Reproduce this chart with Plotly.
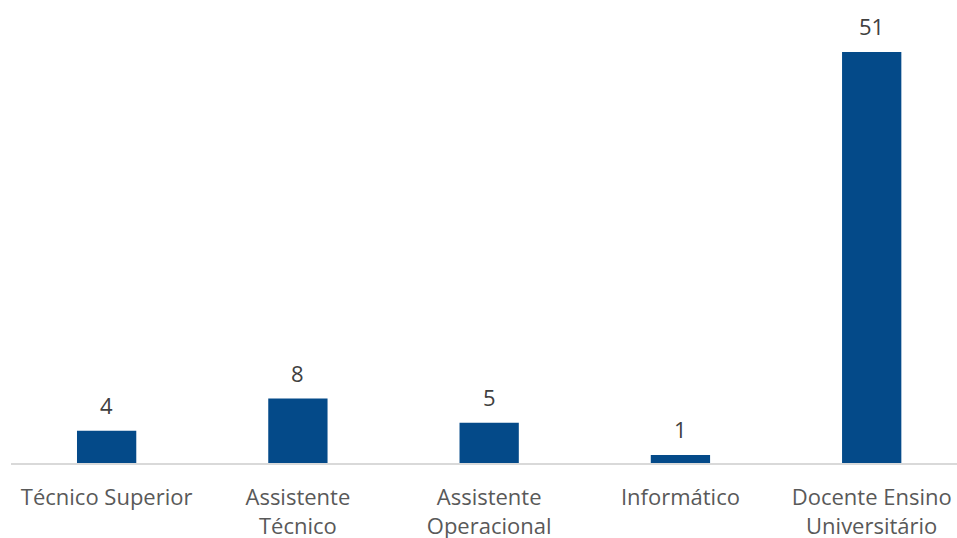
import plotly.graph_objects as go

categories = ["Técnico Superior", "Assistente<br>Técnico", "Assistente<br>Operacional",
              "Informático", "Docente Ensino<br>Universitário"]
values = [4, 8, 5, 1, 51]

xs = list(range(len(categories)))

fig = go.Figure(go.Bar(
    x=xs, y=values,
    marker=dict(color="#044a89", line=dict(width=0)),
    width=0.31,
    cliponaxis=False,
))

for x, v in zip(xs, values):
    fig.add_annotation(x=x, y=v, text=str(v), showarrow=False,
                       yanchor="bottom", yshift=9,
                       font=dict(family="Open Sans", size=22, color="#404040"))

fig.update_layout(
    width=957, height=538,
    margin=dict(l=11, r=0, t=10, b=75),
    paper_bgcolor="white", plot_bgcolor="white",
    showlegend=False,
    xaxis=dict(
        tickmode="array", tickvals=xs, ticktext=categories,
        range=[-0.5, 4.446], automargin=False,
        showline=True, linecolor="#d9d9d9", linewidth=2,
        showgrid=False, zeroline=False,
        ticks="outside", ticklen=14, tickcolor="rgba(0,0,0,0)",
        tickfont=dict(family="Open Sans", size=22, color="#595959"),
    ),
    yaxis=dict(range=[0, 56.2], visible=False, automargin=False),
)

fig.write_html(
    "out.html",
    config={"displayModeBar": False},
    post_script="document.body.style.margin='0';document.body.style.overflow='hidden';"
                "document.documentElement.style.overflow='hidden';",
)
